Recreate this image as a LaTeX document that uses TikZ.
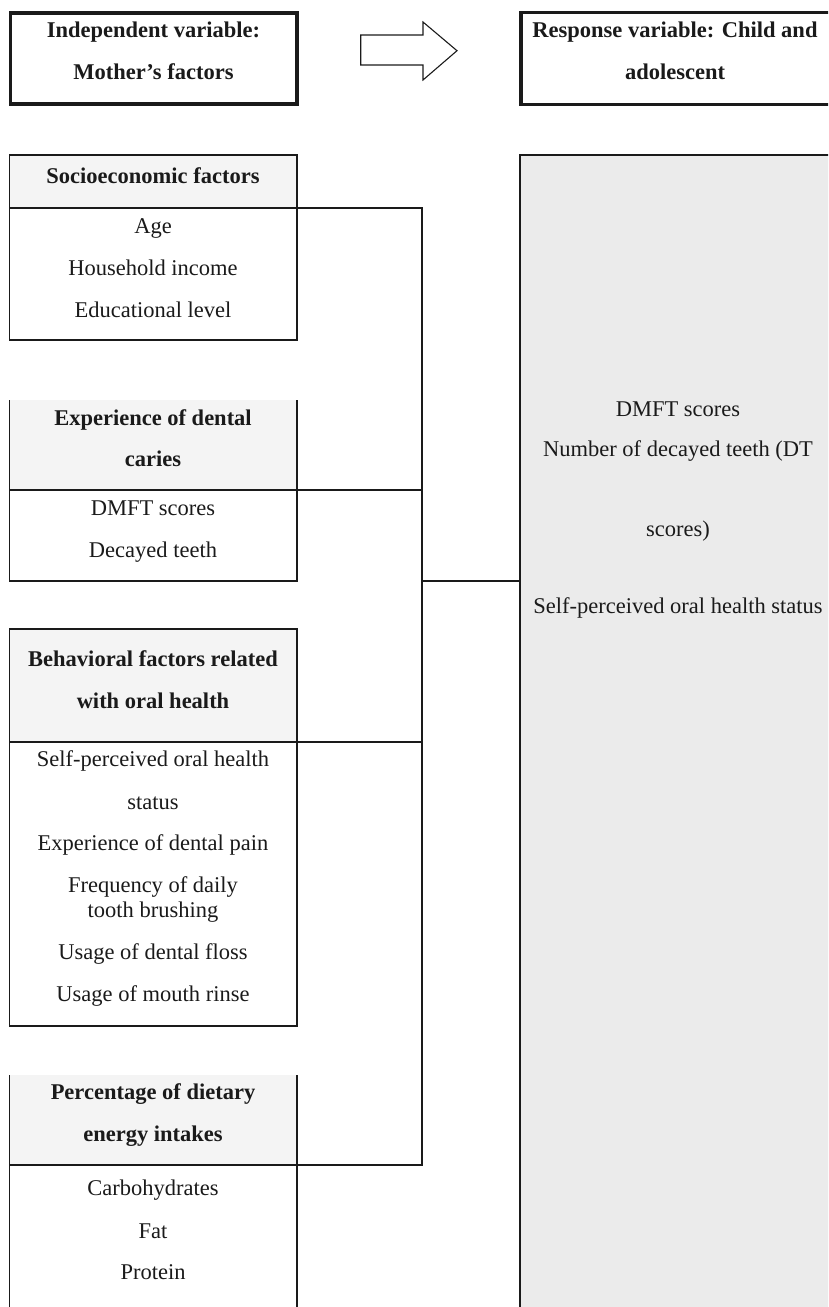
\documentclass[tikz,border=0pt]{standalone}
\usepackage{fontspec}
\setmainfont{Liberation Serif}
\definecolor{ink}{HTML}{1A1A1A}
\definecolor{hdr}{HTML}{F4F4F4}
\definecolor{rbfill}{HTML}{EBEBEB}
\tikzset{
  box/.style={draw=ink, line width=1.3pt, anchor=north west, inner sep=0pt, outer sep=0pt, minimum width=287.7pt},
  hdrbox/.style={box, fill=hdr},
  openhdr/.style={anchor=north west, inner sep=0pt, outer sep=0pt, minimum width=287.7pt, fill=hdr},
  bigbox/.style={draw=ink, line width=3.6pt, anchor=north west, inner sep=0pt, outer sep=0pt},
  txt/.style={anchor=base, inner sep=0pt, outer sep=0pt, text=ink, font=\fontsize{22.5}{27}\selectfont},
  hd/.style={anchor=base, inner sep=0pt, outer sep=0pt, text=ink, font=\fontsize{22.5}{27}\selectfont\bfseries},
  conn/.style={draw=ink, line width=1.3pt},
  bigarrow/.style={draw=ink, line width=1.1pt, line join=miter}
}
\begin{document}
\begin{tikzpicture}[x=1pt,y=-1pt]
\useasboundingbox (0,0) rectangle (828,1307);
\clip (0,0) rectangle (828,1307);
% top boxes
\node[bigbox, minimum width=286.7pt, minimum height=91.2pt] (tl) at (10.3,12.8) {};
\node[bigbox, minimum width=330pt, minimum height=92pt] (tr) at (521,12.5) {};
\draw[bigarrow] (360.7,35) -- (423,35) -- (423,22) -- (457,50.7) -- (423,80) -- (423,65) -- (360.7,65) -- cycle;
\node[hd] (tl1) at (153.5,37.5) {Independent variable:};
\node[hd] (tl2) at (153.5,79.3) {Mother’s factors};
\node[hd] (tr1) at (675,37.5) {Response variable: Child and};
\node[hd] (tr2) at (675,79.3) {adolescent};
% right response box
\node[box, fill=rbfill, minimum width=330pt, minimum height=1200pt] (rb) at (520,155) {};
% socioeconomic
\node[hdrbox, minimum height=53pt] (sh) at (9.3,155) {};
\node[box, minimum height=132pt] (sb) at (9.3,208) {};
% experience
\node[openhdr, minimum height=90pt] (eh) at (9.3,400) {};
\draw[conn] (eh.north west) -- (eh.south west) -- (eh.south east) -- (eh.north east);
\node[box, minimum height=91pt] (eb) at (9.3,490) {};
% behavioral
\node[hdrbox, minimum height=113pt] (bh) at (9.3,629) {};
\node[box, minimum height=284pt] (bb) at (9.3,742) {};
% percentage
\node[openhdr, minimum height=90pt] (ph) at (9.3,1075) {};
\draw[conn] (ph.north west) -- (ph.south west) -- (ph.south east) -- (ph.north east);
\node[box, minimum height=180pt] (pb) at (9.3,1165) {};
% connectors
\coordinate (j1) at (422,208);
\coordinate (j4) at (422,1165);
\draw[conn] (sh.south east) -- (j1) -- (j4) -- (ph.south east);
\draw[conn] (eh.south east) -- (eh.south east -| j1);
\draw[conn] (bh.south east) -- (bh.south east -| j1);
\draw[conn] (eb.south -| j1) -- (eb.south -| rb.west);
% texts left
\node[hd] (s0) at (153,183) {Socioeconomic factors};
\node[txt] (s1) at (153,233) {Age};
\node[txt] (s2) at (153,275) {Household income};
\node[txt] (s3) at (153,317) {Educational level};
\node[hd] (e0) at (153,425.7) {Experience of dental};
\node[hd] (e0b) at (153,466.7) {caries};
\node[txt] (e1) at (153,515.7) {DMFT scores};
\node[txt] (e2) at (153,557.3) {Decayed teeth};
\node[hd] (b0) at (153,666.7) {Behavioral factors related};
\node[hd] (b0b) at (153,708.3) {with oral health};
\node[txt] (b1) at (153,766.8) {Self-perceived oral health};
\node[txt] (b1b) at (153,809.6) {status};
\node[txt] (b2) at (153,850) {Experience of dental pain};
\node[txt] (b3) at (153,892) {Frequency of daily};
\node[txt] (b3b) at (153,917.9) {tooth brushing};
\node[txt] (b4) at (153,959.8) {Usage of dental floss};
\node[txt] (b5) at (153,1001) {Usage of mouth rinse};
\node[hd] (p0) at (153,1099.5) {Percentage of dietary};
\node[hd] (p0b) at (153,1141) {energy intakes};
\node[txt] (p1) at (153,1195) {Carbohydrates};
\node[txt] (p2) at (153,1238) {Fat};
\node[txt] (p3) at (153,1279.5) {Protein};
% texts right
\node[txt] (r1) at (678,416) {DMFT scores};
\node[txt] (r2) at (678,456) {Number of decayed teeth (DT};
\node[txt] (r3) at (678,536) {scores)};
\node[txt] (r4) at (678,613.3) {Self-perceived oral health status};
\end{tikzpicture}
\end{document}
